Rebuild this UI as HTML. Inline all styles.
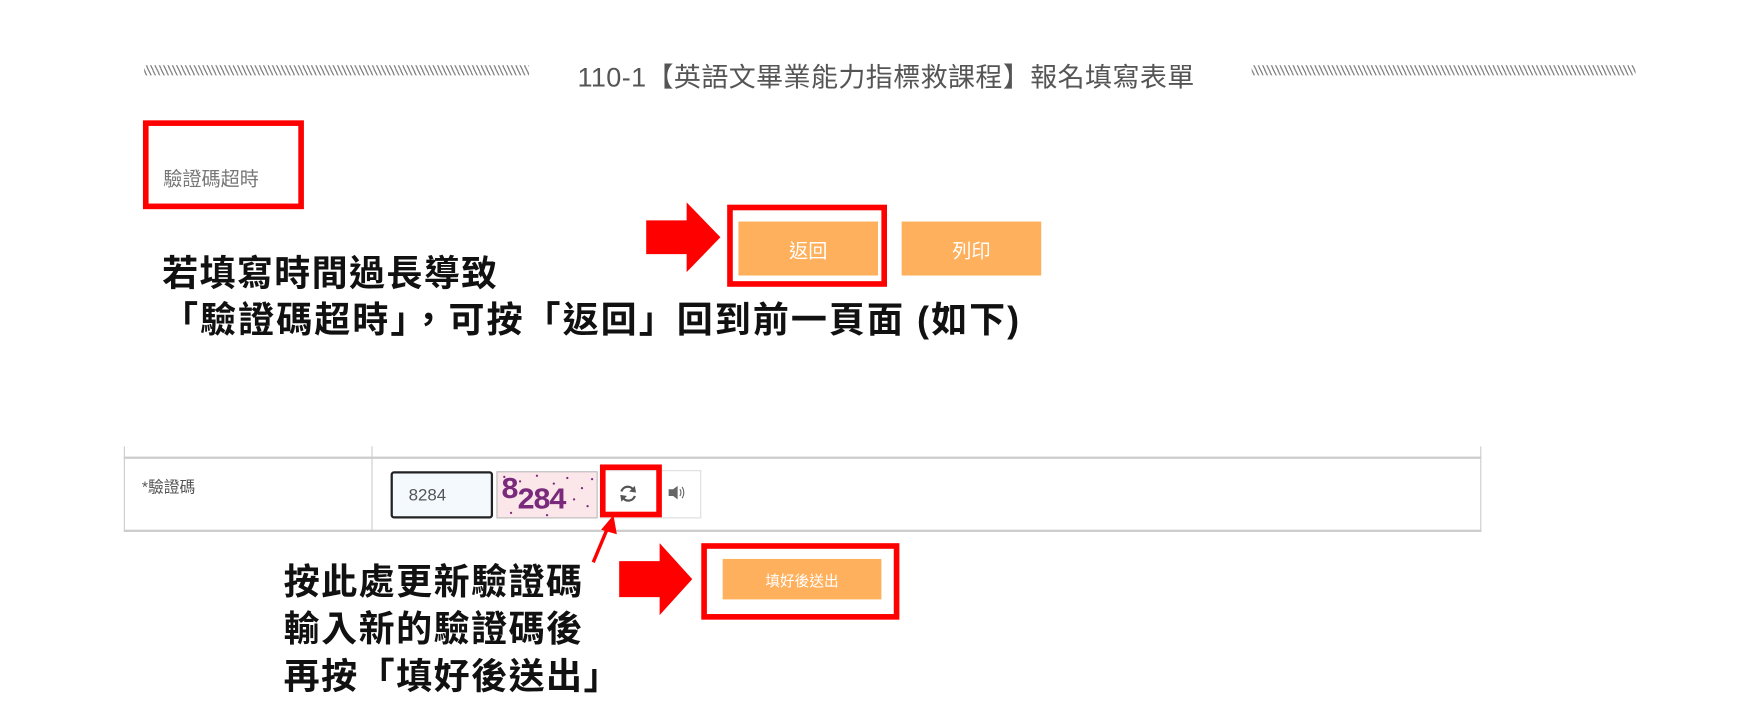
<!DOCTYPE html>
<html><head><meta charset="utf-8">
<style>
html,body{margin:0;padding:0;background:#fff;width:1756px;height:713px;overflow:hidden}
#w{position:absolute;left:0;top:0;width:1560px;height:634px;transform-origin:0 0;transform:scale(1.12564,1.12461);font-family:"Liberation Sans","Noto Sans CJK TC",sans-serif}
.a{position:absolute}
.hatch{height:9px;background:repeating-linear-gradient(65deg,#fff 0 1.5px,#888 1.5px 2.7px,#fff 2.7px 3.5px)}
.rb{position:absolute;border:5px solid #f00;box-sizing:border-box}
.btn{position:absolute;background:#ffb05c;color:#fff;display:flex;align-items:center;justify-content:center}
.big{position:absolute;font-weight:bold;font-size:32px;color:#111;white-space:nowrap;line-height:1}
</style></head><body><div id="w">
<div class="a hatch" style="left:128px;top:58px;width:342px"></div>
<div class="a hatch" style="left:1112px;top:58px;width:341px"></div>
<div class="a" style="left:513px;top:49px;font-size:24px;letter-spacing:0.35px;color:#555;white-space:nowrap">110-1【英語文畢業能力指標救課程】報名填寫表單</div>

<div class="rb" style="left:127px;top:107px;width:143px;height:79px"></div>
<div class="a" style="left:145px;top:145px;font-size:17px;color:#777">驗證碼超時</div>

<svg class="a" style="left:574px;top:180px" width="68" height="62"><polygon points="0,16 36,16 36,0 66,31 36,62 36,46 0,46" fill="#f00"/></svg>
<div class="rb" style="left:646px;top:182px;width:142px;height:73px"></div>
<div class="btn" style="left:656px;top:197px;width:124px;height:48px;font-size:17px">返回</div>
<div class="btn" style="left:801px;top:197px;width:124px;height:48px;font-size:17px">列印</div>

<div class="big" style="left:144px;top:227px;letter-spacing:1.2px">若填寫時間過長導致</div>
<div class="big" style="left:144px;top:268px;letter-spacing:1.8px">「驗證碼超時」，可按「返回」回到前一頁面 (如下)</div>

<div class="a" style="left:110px;top:397px;width:1px;height:76px;background:#ccc"></div>
<div class="a" style="left:1315px;top:397px;width:1px;height:76px;background:#ccc"></div>
<div class="a" style="left:330px;top:397px;width:1px;height:76px;background:#ccc"></div>
<div class="a" style="left:110px;top:406px;width:1206px;height:2px;background:#ccc"></div>
<div class="a" style="left:110px;top:471px;width:1206px;height:2px;background:#ccc"></div>
<div class="a" style="left:126px;top:423px;font-size:14px;color:#555">*驗證碼</div>
<div class="a" style="left:347px;top:419px;width:91px;height:42px;box-sizing:border-box;border:2px solid #222;border-radius:3px;background:#f3f9fd;font-size:15px;color:#555;padding:11px 0 0 14px">8284</div>
<div class="a" style="left:441px;top:419px;width:90px;height:42px;background:#fbe6ea;overflow:hidden;border:1px solid #bbb;box-sizing:border-box">
<svg class="a" style="left:0;top:0" width="90" height="42"><g fill="#7a2a7a"><circle cx="6" cy="4" r="1"/><circle cx="20" cy="8" r="1"/><circle cx="35" cy="3" r="1"/><circle cx="50" cy="10" r="1"/><circle cx="62" cy="5" r="1"/><circle cx="75" cy="14" r="1"/><circle cx="84" cy="6" r="1"/><circle cx="12" cy="36" r="1"/><circle cx="44" cy="38" r="1"/><circle cx="80" cy="30" r="1"/><circle cx="68" cy="24" r="1"/></g></svg>
<div class="a" style="left:3px;top:2px;font-size:27px;font-weight:bold;color:#7a2a7a;font-family:'Liberation Mono',monospace;letter-spacing:-2px">8<span style="position:relative;top:9px">284</span></div></div>
<div class="a" style="left:533px;top:418px;width:90px;height:43px;border:1px solid #ddd;box-sizing:border-box;background:#fff"></div>
<svg class="a" style="left:549px;top:430px" width="18" height="18"><path d="M14 6 A6 6 0 0 0 3 7" stroke="#555" stroke-width="2" fill="none"/><path d="M4 12 A6 6 0 0 0 15 11" stroke="#555" stroke-width="2" fill="none"/><polygon points="15,2 16,8 10,7" fill="#555"/><polygon points="3,16 2,10 8,11" fill="#555"/></svg>
<svg class="a" style="left:593px;top:431px" width="16" height="14"><polygon points="1,4 5,4 9,1 9,13 5,10 1,10" fill="#666"/><path d="M11 4 Q13 7 11 10" stroke="#666" fill="none"/><path d="M13 2 Q16 7 13 12" stroke="#666" fill="none"/></svg>
<div class="rb" style="left:533px;top:413px;width:55px;height:47px"></div>
<svg class="a" style="left:520px;top:455px" width="40" height="50"><line x1="7" y1="45" x2="20" y2="14" stroke="#f00" stroke-width="3"/><polygon points="25,3 28,20 14,16" fill="#f00"/></svg>

<svg class="a" style="left:550px;top:483px" width="68" height="64"><polygon points="0,16 36,16 36,0 65,32 36,64 36,48 0,48" fill="#f00"/></svg>
<div class="rb" style="left:623px;top:483px;width:176px;height:68px"></div>
<div class="btn" style="left:642px;top:497px;width:141px;height:36px;font-size:13px">填好後送出</div>

<div class="big" style="left:252px;top:501px;letter-spacing:1.3px">按此處更新驗證碼</div>
<div class="big" style="left:252px;top:543px;letter-spacing:1.3px">輸入新的驗證碼後</div>
<div class="big" style="left:252px;top:585px;letter-spacing:1.3px">再按「填好後送出」</div>
</div></body></html>
